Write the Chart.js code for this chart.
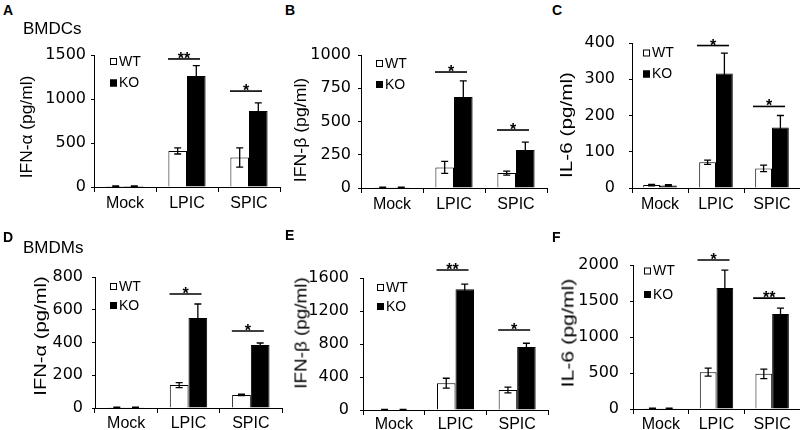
<!DOCTYPE html>
<html>
<head>
<meta charset="utf-8">
<script src="https://cdn.jsdelivr.net/npm/chart.js@4.4.0/dist/chart.umd.min.js"></script>
<style>
html, body { margin: 0; padding: 0; background: #fff; }
#fig { position: relative; width: 800px; height: 430px; overflow: hidden; font-family: "Liberation Sans", Arial, sans-serif; color: #000; }
#fig canvas { position: absolute; }
.lbl { position: absolute; white-space: nowrap; line-height: 1; }
.letter { font-weight: bold; font-size: 14px; }
.cell { font-size: 17px; }
</style>
</head>
<body>
<div id="fig"></div>
<script>
const categories = ['Mock', 'LPIC', 'SPIC'];
const groups = ['WT', 'KO'];

// A - BMDCs, IFN-a
const dcIfnaWT = [10, 410, 335];
const dcIfnaWTErr = [3, 35, 110];
const dcIfnaKO = [10, 1260, 865];
const dcIfnaKOErr = [3, 120, 90];
const dcIfnaSigY = [null, 1455, 1090];
const dcIfnaSigMark = ['', '**', '*'];

// B - BMDCs, IFN-b
const dcIfnbWT = [5, 155, 112];
const dcIfnbWTErr = [2, 45, 15];
const dcIfnbKO = [5, 685, 285];
const dcIfnbKOErr = [2, 120, 60];
const dcIfnbSigY = [null, 872, 436];
const dcIfnbSigMark = ['', '*', '*'];

// C - BMDCs, IL-6
const dcIl6WT = [8, 71, 54];
const dcIl6WTErr = [2, 6, 9];
const dcIl6KO = [7, 316, 167];
const dcIl6KOErr = [2, 56, 33];
const dcIl6SigY = [null, 393, 225];
const dcIl6SigMark = ['', '*', '*'];

// D - BMDMs, IFN-a
const mIfnaWT = [4, 140, 80];
const mIfnaWTErr = [1, 15, 4];
const mIfnaKO = [4, 550, 385];
const mIfnaKOErr = [1, 85, 12];
const mIfnaSigY = [null, 696, 470];
const mIfnaSigMark = ['', '*', '*'];

// E - BMDMs, IFN-b
const mIfnbWT = [5, 325, 242];
const mIfnbWTErr = [2, 60, 35];
const mIfnbKO = [5, 1465, 764];
const mIfnbKOErr = [2, 60, 45];
const mIfnbSigY = [null, 1697, 970];
const mIfnbSigMark = ['', '**', '*'];

// F - BMDMs, IL-6
const mIl6WT = [10, 512, 488];
const mIl6WTErr = [3, 55, 65];
const mIl6KO = [10, 1680, 1320];
const mIl6KOErr = [3, 250, 80];
const mIl6SigY = [null, 2070, 1540];
const mIl6SigMark = ['', '*', '**'];

// y axis ranges
const yMax = [1500, 1000, 400, 800, 1600, 2000];
const yStep = [500, 250, 100, 200, 400, 500];

Chart.defaults.font.family = '"Liberation Sans", Arial, sans-serif';
Chart.defaults.color = '#000';

const fig = document.getElementById('fig');

// layout of each panel: canvas box, y-axis width, paddings, legend and title placement
const panels = [
	{letter: 'A', lp: [3, 3], cell: 'BMDCs', cp: [23, 20], title: 'IFN-α (pg/ml)', tp: [27, 127, 103, 16],
		wt: dcIfnaWT, wtErr: dcIfnaWTErr, ko: dcIfnaKO, koErr: dcIfnaKOErr, sigY: dcIfnaSigY, sigMark: dcIfnaSigMark,
		box: [30, 30, 255, 185], yW: 64, padTop: 25, padRight: 5, tickPad: 5, xPad: 2, legend: [16, 6.5, 28]},
	{letter: 'B', lp: [285, 3], title: 'IFN-β (pg/ml)', tp: [301, 129.5, 105, 16],
		wt: dcIfnbWT, wtErr: dcIfnbWTErr, ko: dcIfnbKO, koErr: dcIfnbKOErr, sigY: dcIfnbSigY, sigMark: dcIfnbSigMark,
		box: [295, 30, 257, 186], yW: 66, padTop: 25, padRight: 5, tickPad: 7, xPad: 2, legend: [15, 8.5, 29.5]},
	{letter: 'C', lp: [552, 3], title: 'IL-6 (pg/ml)', tp: [567, 125, 106, 16],
		wt: dcIl6WT, wtErr: dcIl6WTErr, ko: dcIl6KO, koErr: dcIl6KOErr, sigY: dcIl6SigY, sigMark: dcIl6SigMark,
		box: [566, 18, 234, 198], yW: 66, padTop: 25, padRight: 0, tickPad: 14, xPad: 2, legend: [11, 10, 31]},
	{letter: 'D', lp: [3, 230], cell: 'BMDMs', cp: [23, 239], title: 'IFN-α (pg/ml)', tp: [40, 336, 120, 17],
		wt: mIfnaWT, wtErr: mIfnaWTErr, ko: mIfnaKO, koErr: mIfnaKOErr, sigY: mIfnaSigY, sigMark: mIfnaSigMark,
		box: [30, 250, 257, 186], yW: 65, padTop: 27, padRight: 5, tickPad: 9, xPad: 1, legend: [15, 9.5, 28.5]},
	{letter: 'E', lp: [285, 228], title: 'IFN-β (pg/ml)', tp: [301, 332.5, 111, 17],
		wt: mIfnbWT, wtErr: mIfnbWTErr, ko: mIfnbKO, koErr: mIfnbKOErr, sigY: mIfnbSigY, sigMark: mIfnbSigMark,
		box: [297, 248, 256, 190], yW: 66, padTop: 30, padRight: 5, tickPad: 11, xPad: 0, legend: [14, 9.5, 28.5]},
	{letter: 'F', lp: [552, 230], title: 'IL-6 (pg/ml)', tp: [568, 332.5, 109, 17],
		wt: mIl6WT, wtErr: mIl6WTErr, ko: mIl6KO, koErr: mIl6KOErr, sigY: mIl6SigY, sigMark: mIl6SigMark,
		box: [567, 235, 233, 202], yW: 66, padTop: 30, padRight: 0, tickPad: 11, xPad: 1, legend: [11, 6, 29.5]},
];

// error bars, significance lines and the small legend
const extras = {
	id: 'extras',
	afterDatasetsDraw(chart, args, opts) {
		const ctx = chart.ctx;
		const xs = chart.scales.x;
		const ys = chart.scales.y;
		const area = chart.chartArea;
		ctx.save();
		ctx.strokeStyle = '#000';
		ctx.fillStyle = '#000';

		chart.data.datasets.forEach((ds, i) => {
			chart.getDatasetMeta(i).data.forEach((bar, j) => {
				const v = ds.data[j];
				const e = ds.errors[j];
				const top = ys.getPixelForValue(v + e);
				const bot = ys.getPixelForValue(Math.max(0, v - e));
				ctx.lineWidth = 1.3;
				ctx.beginPath();
				ctx.moveTo(bar.x, top);
				ctx.lineTo(bar.x, bot);
				ctx.moveTo(bar.x - 3.5, top);
				ctx.lineTo(bar.x + 3.5, top);
				ctx.moveTo(bar.x - 3.5, bot);
				ctx.lineTo(bar.x + 3.5, bot);
				ctx.stroke();
			});
		});

		ctx.font = 'bold 16px "Liberation Sans", Arial, sans-serif';
		ctx.textAlign = 'center';
		ctx.textBaseline = 'alphabetic';
		opts.sigY.forEach((sv, j) => {
			if (sv === null) return;
			const cx = xs.getPixelForValue(j) - 3;
			const ly = ys.getPixelForValue(sv);
			ctx.lineWidth = 1.6;
			ctx.beginPath();
			ctx.moveTo(cx - 16, ly);
			ctx.lineTo(cx + 16, ly);
			ctx.stroke();
			ctx.fillText(opts.sigMark[j], cx, ly + 5);
		});

		// legend
		const lx = area.left + opts.legend[0];
		ctx.font = '14px "Liberation Sans", Arial, sans-serif';
		ctx.textAlign = 'left';
		ctx.textBaseline = 'middle';
		chart.data.datasets.forEach((ds, i) => {
			const cy = area.top + opts.legend[i + 1];
			ctx.lineWidth = 1;
			ctx.fillStyle = ds.backgroundColor;
			ctx.fillRect(lx, cy - 3.5, 7, 7);
			ctx.strokeRect(lx + 0.5, cy - 3, 6, 6);
			ctx.fillStyle = '#000';
			ctx.fillText(ds.label, lx + 9, cy + 0.5);
		});
		ctx.restore();
	}
};

function addText(cls, text, left, top) {
	const d = document.createElement('div');
	d.className = 'lbl ' + cls;
	d.textContent = text;
	d.style.left = left + 'px';
	d.style.top = top + 'px';
	fig.appendChild(d);
	return d;
}

panels.forEach((p, k) => {
	const cv = document.createElement('canvas');
	cv.width = p.box[2];
	cv.height = p.box[3];
	cv.style.left = p.box[0] + 'px';
	cv.style.top = p.box[1] + 'px';
	cv.style.width = p.box[2] + 'px';
	cv.style.height = p.box[3] + 'px';
	fig.appendChild(cv);

	new Chart(cv, {
		type: 'bar',
		data: {
			labels: categories,
			datasets: [
				{label: groups[0], data: p.wt, errors: p.wtErr, backgroundColor: '#fff', borderColor: '#000', borderWidth: 1},
				{label: groups[1], data: p.ko, errors: p.koErr, backgroundColor: '#000', borderColor: '#000', borderWidth: 1},
			],
		},
		options: {
			responsive: false,
			animation: false,
			devicePixelRatio: 1,
			categoryPercentage: 0.6,
			barPercentage: 1.0,
			layout: {padding: {top: p.padTop, right: p.padRight, left: 0, bottom: 0}},
			plugins: {
				legend: {display: false},
				tooltip: {enabled: false},
				extras: {sigY: p.sigY, sigMark: p.sigMark, legend: p.legend},
			},
			scales: {
				x: {
					grid: {offset: true, drawOnChartArea: false, tickLength: 5, color: '#000', lineWidth: 1},
					border: {display: true, color: '#000', width: 1},
					ticks: {font: {size: 16}, padding: p.xPad, color: '#000'},
					afterFit(scale) { scale.height = 28; },
				},
				y: {
					min: 0,
					max: yMax[k],
					ticks: {
						stepSize: yStep[k],
						font: {size: 16, family: '"DejaVu Sans", sans-serif'},
						padding: p.tickPad,
						color: '#000',
						callback: (v) => String(v),
					},
					grid: {drawOnChartArea: false, tickLength: 3, color: '#000', lineWidth: 1},
					border: {display: true, color: '#000', width: 1},
					afterFit(scale) { scale.width = p.yW; },
				},
			},
		},
		plugins: [extras],
	});

	addText('letter', p.letter, p.lp[0], p.lp[1]);
	if (p.cell) addText('cell', p.cell, p.cp[0], p.cp[1]);

	// rotated axis title, stretched to the length seen in the figure
	const t = addText('', p.title, p.tp[0], p.tp[1]);
	t.style.fontSize = p.tp[3] + 'px';
	const sx = p.tp[2] / t.offsetWidth;
	t.style.transform = 'translate(-50%, -50%) rotate(-90deg) scaleX(' + sx.toFixed(3) + ')';
});
</script>
</body>
</html>
